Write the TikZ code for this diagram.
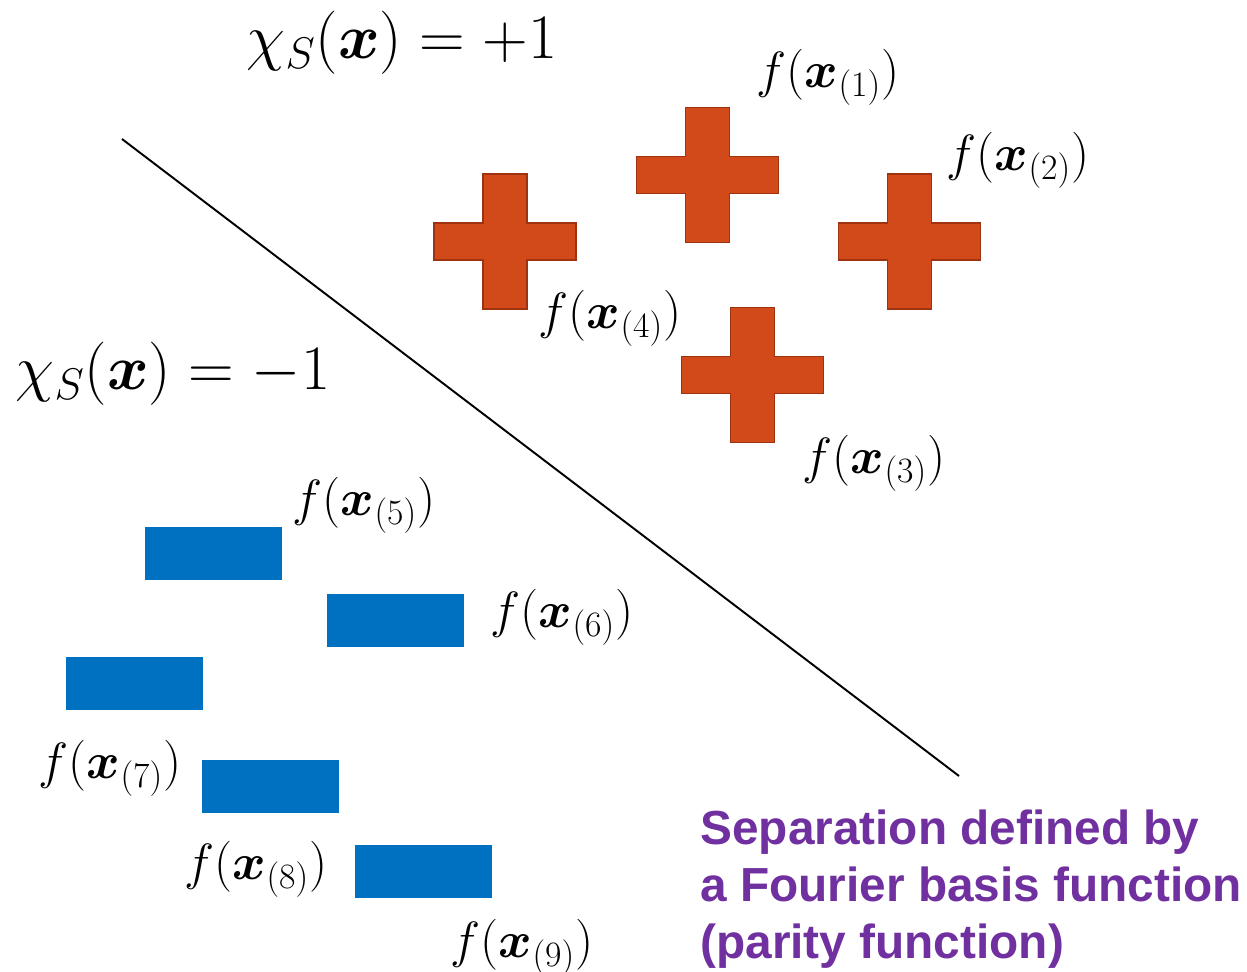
\RequirePackage{fix-cm}
\documentclass[tikz,border=0pt]{standalone}
\usepackage{amsmath}
\usepackage{fontspec}
\newfontfamily\arialfont{Liberation Sans}
\definecolor{plusfill}{HTML}{D24A1A}
\definecolor{plusedge}{HTML}{A0330F}
\definecolor{rectblue}{HTML}{0070C0}
\definecolor{notepurple}{HTML}{7030A0}
\tikzset{
  flabel/.style={inner sep=0pt, font=\fontsize{29}{33}\selectfont},
  chilabel/.style={inner sep=0pt, font=\fontsize{36}{40}\selectfont},
  bluebox/.style={fill=rectblue, draw=none, minimum width=2.74cm, minimum height=1.06cm, inner sep=0pt},
  plusstyle/.style={fill=plusfill, draw=plusedge, line width=1.1pt, line join=miter},
  sepline/.style={line width=1.1pt, black},
  plus/.pic={
    \draw[plusstyle] (-22,-67.5) -- (22,-67.5) -- (22,-18.5) -- (71,-18.5) -- (71,18.5)
      -- (22,18.5) -- (22,67.5) -- (-22,67.5) -- (-22,18.5) -- (-71,18.5)
      -- (-71,-18.5) -- (-22,-18.5) -- cycle;
  }
}
\begin{document}
\begin{tikzpicture}[x=0.02cm, y=-0.02cm]
\useasboundingbox (0,0) rectangle (1247,971);

% separating line
\coordinate (lineA) at (122,139);
\coordinate (lineB) at (959,776);
\draw[sepline] (lineA) -- (lineB);

% plus markers
\pic at (707.5,175) {plus};
\pic at (505,241.5) {plus};
\pic at (909.5,241.5) {plus};
\pic at (752.5,375) {plus};

% blue rectangles
\node[bluebox] (r5) at (213.5,553.5) {};
\node[bluebox] (r6) at (395.5,620.5) {};
\node[bluebox] (r7) at (134.5,683.5) {};
\node[bluebox] (r8) at (270.5,786.5) {};
\node[bluebox] (r9) at (423.5,871.5) {};

% region labels
\node[chilabel] (chiplus) at (402,43) {$\chi_S(\boldsymbol{x}) = +1$};
\node[chilabel] (chiminus) at (173,374) {$\chi_S(\boldsymbol{x}) = -1$};

% point labels
\node[flabel] (f1) at (828,77) {$f(\boldsymbol{x}_{(1)})$};
\node[flabel] (f2) at (1018,160) {$f(\boldsymbol{x}_{(2)})$};
\node[flabel] (f4) at (610,318) {$f(\boldsymbol{x}_{(4)})$};
\node[flabel] (f3) at (874,463) {$f(\boldsymbol{x}_{(3)})$};
\node[flabel] (f5) at (364,505) {$f(\boldsymbol{x}_{(5)})$};
\node[flabel] (f6) at (562,617) {$f(\boldsymbol{x}_{(6)})$};
\node[flabel] (f7) at (110,768) {$f(\boldsymbol{x}_{(7)})$};
\node[flabel] (f8) at (256,869) {$f(\boldsymbol{x}_{(8)})$};
\node[flabel] (f9) at (522,947) {$f(\boldsymbol{x}_{(9)})$};

% note
\node[anchor=north west, inner sep=0pt, align=left, text=notepurple,
      font=\arialfont\bfseries\fontsize{27.2}{32.4}\selectfont] (note) at (700,810)
  {Separation defined by\\a Fourier basis function\\(parity function)};
\end{tikzpicture}
\end{document}
